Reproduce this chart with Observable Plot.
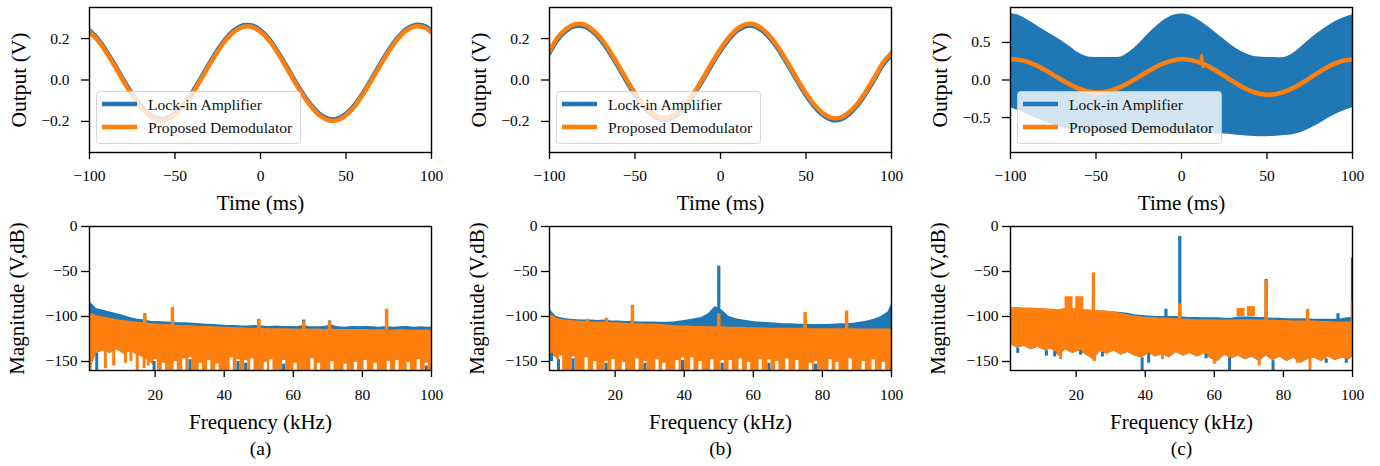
<!DOCTYPE html>
<html><head><meta charset="utf-8">
<script src="https://cdn.jsdelivr.net/npm/d3@7"></script>
<script src="https://cdn.jsdelivr.net/npm/@observablehq/plot@0.6"></script>
<style>
html,body{margin:0;padding:0;background:#fff;}
#fig{position:relative;width:1380px;height:466px;overflow:hidden;background:#fff;font-family:"Liberation Serif",serif;}
#fig text{font-family:"Liberation Serif",serif;}
</style></head><body><div id="fig"></div>
<script>
// ---------------- DATA ----------------
const BLUE = "#1f77b4", ORANGE = "#ff7f0e";
const seriesNames = ["Lock-in Amplifier", "Proposed Demodulator"];
const panelCaptions = ["(a)", "(b)", "(c)"];
const timeLabel = "Time (ms)", outputLabel = "Output (V)";
const freqLabel = "Frequency (kHz)", magLabel = "Magnitude (V,dB)";
const timeTicks = [-100, -50, 0, 50, 100];
const outTicksAB = [-0.2, 0, 0.2];
const outTicksC = [-0.5, 0, 0.5];
const freqTicks = [20, 40, 60, 80, 100];
const magTicks = [0, -50, -100, -150];

// time-domain (ms) and outputs (V)
const timeMs = [-100,-95,-90,-85,-80,-75,-70,-65,-60,-55,-50,-45,-40,-35,-30,-25,-20,-15,-10,-5,0,5,10,15,20,25,30,35,40,45,50,55,60,65,70,75,80,85,90,95,100];
const aProp = [0.232,0.190,0.131,0.063,-0.008,-0.075,-0.131,-0.172,-0.193,-0.192,-0.168,-0.126,-0.067,0.001,0.072,0.139,0.195,0.236,0.257,0.256,
               0.233,0.191,0.131,0.062,-0.009,-0.076,-0.132,-0.174,-0.195,-0.194,-0.170,-0.127,-0.068,0.000,0.071,0.138,0.195,0.237,0.258,0.256,0.231];
const aLock = [0.239,0.197,0.138,0.070,-0.001,-0.068,-0.124,-0.165,-0.186,-0.185,-0.161,-0.119,-0.060,0.008,0.079,0.146,0.202,0.243,0.264,0.263,
               0.240,0.198,0.138,0.069,-0.002,-0.069,-0.125,-0.167,-0.188,-0.187,-0.163,-0.120,-0.061,0.007,0.078,0.145,0.202,0.244,0.265,0.263,0.238];
const bProp = [0.140,0.207,0.248,0.269,0.268,0.244,0.202,0.143,0.075,0.004,-0.063,-0.119,-0.160,-0.181,-0.180,-0.156,-0.114,-0.055,0.013,0.084,
               0.150,0.206,0.248,0.270,0.268,0.243,0.201,0.142,0.074,0.003,-0.064,-0.120,-0.161,-0.183,-0.182,-0.157,-0.115,-0.056,0.012,0.083,0.130];
const bLock = [0.131,0.198,0.239,0.260,0.259,0.235,0.193,0.134,0.066,-0.005,-0.072,-0.128,-0.169,-0.190,-0.189,-0.165,-0.123,-0.064,0.004,0.075,
               0.141,0.197,0.239,0.261,0.259,0.234,0.192,0.133,0.065,-0.006,-0.073,-0.129,-0.170,-0.192,-0.191,-0.166,-0.124,-0.065,0.003,0.074,0.121];
const cProp = [0.275,0.268,0.241,0.195,0.136,0.069,0.000,-0.063,-0.115,-0.150,-0.165,-0.158,-0.131,-0.085,-0.026,0.041,0.110,0.173,0.225,0.260,
               0.275,0.268,0.238,0.190,0.126,0.055,-0.019,-0.086,-0.141,-0.179,-0.195,-0.188,-0.158,-0.110,-0.046,0.025,0.099,0.166,0.221,0.259,0.272];
const cLockUpper = [0.885,0.86,0.80,0.73,0.66,0.59,0.52,0.44,0.36,0.31,0.30,0.30,0.30,0.31,0.38,0.48,0.60,0.71,0.80,0.86,
                    0.88,0.86,0.80,0.72,0.63,0.54,0.45,0.38,0.33,0.305,0.30,0.30,0.30,0.35,0.44,0.54,0.63,0.71,0.78,0.83,0.87];
const cLockLower = [-0.37,-0.41,-0.46,-0.51,-0.56,-0.60,-0.63,-0.66,-0.68,-0.69,-0.70,-0.70,-0.70,-0.69,-0.69,-0.68,-0.68,-0.68,-0.68,-0.68,
                    -0.68,-0.69,-0.70,-0.71,-0.72,-0.72,-0.73,-0.74,-0.75,-0.755,-0.755,-0.75,-0.74,-0.73,-0.70,-0.65,-0.59,-0.52,-0.46,-0.41,-0.37];
const cGlitchT = [11.0, 11.8, 12.5];
const cGlitchV = [0.240, 0.325, 0.175];

// spectra (kHz, dB)
const freqKHz = [1,3,5,7,9,11,13,15,17,19,21,23,25,27,29,31,33,35,37,39,41,43,45,47,49,51,53,55,57,59,61,63,65,67,69,71,73,75,77,79,81,83,85,87,89,91,93,95,97,99,100];

// (a)
const aLockHi = [-83,-91,-93,-95,-97,-99,-101.5,-103,-104,-105.5, -105.5,-106,-106.5,-107,-107,-107.5,-108,-108.5,-109,-109.5,
                 -110,-110,-110.5,-110.5,-110,-110.5,-111,-110.5,-111,-111, -111.5,-110,-111.5,-111.5,-111,-109.5,-111.5,-112,-111,-111.5,
                 -111,-111.5,-112,-111,-112,-111.5,-111,-112,-111.5,-112,-112];
const aPropHi = [-96,-99,-100.5,-102,-103.5,-104.5,-105.5,-106.5,-107,-108, -108.5,-109,-109.5,-110,-110,-110.5,-111,-111,-111.5,-112,
                 -112,-112.5,-112.5,-113,-113,-113,-113.5,-113.5,-113.5,-114, -114,-114,-114,-114,-114.5,-114,-114.5,-114.5,-114.5,-114.5,
                 -114.5,-115,-114.5,-115,-115,-114.5,-115,-115,-115,-115,-115];
const aPropLo = [-160,-141,-138,-141,-137,-142,-139,-143,-146,-152, -160,-160,-160,-160,-160,-160,-160,-160,-160,-160,
                 -160,-160,-160,-160,-160,-160,-160,-160,-160,-160, -160,-160,-160,-160,-160,-160,-160,-160,-160,-160,
                 -160,-160,-160,-160,-160,-160,-160,-160,-160,-160,-160];
const aPropSpikeF = [17, 25, 50, 63, 70.5, 87];
const aPropSpikeDb = [-98, -90, -103, -105.5, -106, -92];
const aPropTeethF = [1.2, 5.6, 8.0, 11.4, 13.0, 14.8, 16.8, 18.0];
const aPropTeethDb = [-160, -158, -155, -152, -150, -160, -158, -155];
const aNotchF = [20.0,22.4,25.8,28.3,30.1,33.1,35.5,37.9,42.0,44.0,46.2,48.0,51.9,53.5,57.2,60.5,65.4,67.3,71.2,75.0,78.0,80.8,83.7,87.5,90.0,93.3,96.2,98.5];
const aNotchDb = [-148,-152,-150,-147,-146,-152,-149,-153,-146,-148,-149,-147,-151,-148,-149,-152,-147,-152,-150,-153,-151,-149,-152,-150,-149,-151,-148,-152];
const aLockSpikeF = [17, 63, 70.5];
const aLockSpikeDb = [-97, -104, -105];
const aLockDipF = [3.1, 19.7, 30.1, 44.0, 46.2, 57.2, 98.5];
const aLockDipTop = [-141, -150, -148, -150, -152, -153, -155];
const aLockDipBottom = [-160, -160, -160, -160, -160, -160, -160];

// (b)
const bLockHi = [-92,-100,-102,-103,-103.5,-104,-104,-104.5,-104,-105, -105,-105.5,-105.5,-106,-106,-106,-106.5,-106.5,-106,-105,
                 -104,-102.5,-101,-97,-89,-93,-100,-102.5,-104,-105, -106,-106.5,-107,-107.5,-108,-108,-108.5,-108.5,-109,-109,
                 -109,-108.5,-108,-108,-107.5,-106.5,-105,-103,-100,-95,-86];
const bPropHi = [-96,-102,-103.5,-104.5,-105,-105.5,-106,-106,-106.5,-107, -107,-107.5,-108,-108,-108.5,-108.5,-109,-109.5,-110,-110.5,
                 -110.5,-111,-111,-111.5,-111.5,-111.5,-112,-112,-112,-112.5, -112.5,-112.5,-113,-113,-113,-113,-113,-113,-113.5,-113.5,
                 -113.5,-113.5,-113.5,-113.5,-113.5,-114,-114,-114,-114,-114,-114];
const bPropLo = [-140,-146,-160,-160,-160,-160,-160,-160,-160,-160, -160,-160,-160,-160,-160,-160,-160,-160,-160,-160,
                 -160,-160,-160,-160,-160,-160,-160,-160,-160,-160, -160,-160,-160,-160,-160,-160,-160,-160,-160,-160,
                 -160,-160,-160,-160,-160,-160,-160,-160,-160,-160,-160];
const bPropSpikeF = [12, 17.5, 25, 50, 75, 87];
const bPropSpikeDb = [-103, -102, -87.5, -97, -95.5, -94];
const bPropTeethF = [];
const bPropTeethDb = [];
const bNotchF = [4.2,7.8,11.6,14.1,17.4,19.4,22.4,26.3,28.6,32.1,34.1,37.9,39.5,42.2,44.6,48.0,51.0,53.3,56.2,58.6,62.0,64.5,66.8,69.7,72.6,76.5,78.0,82.2,84.2,88.0,91.8,94.7,97.6];
const bNotchDb = [-144,-145,-146,-150,-150,-148,-151,-147,-150,-148,-152,-149,-146,-146,-150,-148,-149,-149,-147,-151,-148,-148,-150,-147,-149,-152,-150,-148,-151,-147,-150,-148,-151];
const bLockSpikeF = [50];
const bLockSpikeDb = [-44];
const bLockDipF = [1.6, 3.6, 7.8, 17.4, 28.6, 39.5, 51.0, 64.5, 78.0];
const bLockDipTop = [-141, -148, -147, -152, -152, -149, -152, -152, -153];
const bLockDipBottom = [-150, -160, -160, -160, -160, -160, -160, -160, -160];

// (c)
const cLockHi = [-90.5,-90.5,-91,-91,-91.5,-92,-92.5,-93,-91.5,-91.5, -92.5,-93,-93.5,-94,-94.5,-95,-95.5,-96.5,-98,-99,
                 -99.5,-100,-100,-100,-100,-100.5,-101,-101,-101.5,-101.5, -101.5,-102,-102,-100.5,-100.5,-100.5,-101,-101.5,-102,-102,
                 -102.5,-102.5,-102.5,-102.5,-103,-103,-103,-103,-102.5,-101,-101];
const cPropHi = [-90,-90,-90.5,-90.5,-91,-91.5,-92,-92.5,-91,-91, -92,-92.5,-93,-93.5,-94,-95,-96.5,-98,-99.5,-100.5,
                 -101,-101.5,-102,-102,-102.5,-103,-103,-103.5,-103.5,-103.5, -104,-104,-104,-103.5,-103.5,-103.5,-104,-104,-104,-104.5,
                 -104.5,-105,-105,-105,-105,-105.5,-105.5,-106,-106,-106,-106];
const cPropLo = [-131,-135,-133,-137,-134,-138,-136,-144,-137,-141, -138,-143,-148,-139,-142,-138,-143,-140,-144,-146,
                 -141,-145,-142,-146,-140,-144,-141,-145,-142,-147, -150,-143,-147,-144,-148,-145,-150,-144,-149,-145,
                 -150,-146,-152,-148,-146,-150,-145,-149,-146,-148,-145];
const cPropSpikeF = [25, 50, 75, 87, 100];
const cPropSpikeDb = [-51.5, -86, -60, -92, -84];
const cPropHumpF = [17.8, 20.9, 67.6, 70.6];
const cPropHumpDb = [-78, -78, -91, -89];
const cPropTeethF = [15.5, 25.3, 45.0, 60.0, 73.0, 84.0, 87.7];
const cPropTeethDb = [-148, -150, -148, -153, -155, -152, -160];
const cNotchF = [];
const cNotchDb = [];
const cLockSpikeF = [46, 50, 75, 95.8, 100];
const cLockSpikeDb = [-92, -11, -59, -97, -35];
const cLockDipF = [3.1, 11.4, 13.8, 21.3, 27.6, 39.1, 41.0, 57.6, 64.4, 77.0, 92.4, 98.2];
const cLockDipTop = [-135, -138, -139, -138, -140, -146, -141, -142, -146, -149, -147, -147];
const cLockDipBottom = [-141, -144, -145, -143, -145, -160, -152, -147, -160, -160, -152, -152];

// ---------------- LAYOUT ----------------
const fig = document.getElementById("fig");
const FONT = "Liberation Serif";
const layout = [
  {left: 0,   ml: 89, mr: 29},
  {left: 460, ml: 89, mr: 29},
  {left: 920, ml: 90, mr: 28}
];
const baseStyle = {background: "transparent", overflow: "visible", fontFamily: FONT, fontSize: "15px", color: "#000"};
const fmt1 = d3.format(".1f"), fmtD = d3.format("d");

function place(node, left, top) {
  node.style.position = "absolute";
  node.style.left = left + "px";
  node.style.top = top + "px";
  fig.appendChild(node);
}
function pairs(F, V) { return F.map((f, i) => ({f, v: V[i]})); }
function triples(F, A, B) { return F.map((f, i) => ({f, a: A[i], b: B[i]})); }

function timePanel(i, marks, yDomain, yTicks) {
  const L = layout[i];
  const svg = Plot.plot({
    width: 460, height: 222, marginTop: 7, marginBottom: 70, marginLeft: L.ml, marginRight: L.mr,
    style: baseStyle,
    x: {domain: [-100, 100]},
    y: {domain: yDomain},
    marks: [
      ...marks,
      Plot.frame({stroke: "#000", strokeWidth: 1.4}),
      Plot.axisX({ticks: timeTicks, tickFormat: fmtD, tickSize: 7, tickPadding: 10, fontSize: 15.5, fontFamily: FONT, strokeWidth: 1.3, label: null}),
      Plot.axisY({ticks: yTicks, tickFormat: fmt1, tickSize: 8, tickPadding: 12, fontSize: 15.5, fontFamily: FONT, strokeWidth: 1.3, label: null}),
      Plot.text([timeLabel], {text: d => d, frameAnchor: "bottom", lineAnchor: "middle", textAnchor: "middle", dy: 51, fontSize: 21, fontFamily: FONT}),
      Plot.text([outputLabel], {text: d => d, frameAnchor: "left", lineAnchor: "middle", textAnchor: "middle", dx: -70, rotate: -90, fontSize: 21.5, fontFamily: FONT})
    ]
  });
  place(svg, L.left, 0);
  // legend (matplotlib-like, semi-transparent box)
  const lg = document.createElementNS("http://www.w3.org/2000/svg", "svg");
  lg.setAttribute("width", 206); lg.setAttribute("height", 54);
  lg.innerHTML = `<rect x="0.5" y="0.5" width="204" height="52" rx="3" fill="white" fill-opacity="0.8" stroke="#cccccc" stroke-opacity="0.8"/>
    <line x1="6" x2="41" y1="13" y2="13" stroke="${BLUE}" stroke-width="4.5"/>
    <line x1="6" x2="41" y1="36" y2="36" stroke="${ORANGE}" stroke-width="4.5"/>
    <text x="52" y="19" style="font-family:'Liberation Serif';font-size:15.6px" fill="#111">${seriesNames[0]}</text>
    <text x="52" y="42" style="font-family:'Liberation Serif';font-size:15.6px" fill="#111">${seriesNames[1]}</text>`;
  place(lg, L.left + L.ml + 7, 91);
}

function specPanel(i, d) {
  const L = layout[i];
  const rows = freqKHz.map((f, k) => ({f, lockHi: d.lockHi[k], propHi: d.propHi[k], propLo: d.propLo[k]}));
  const marks = [
    Plot.areaY(rows, {x: "f", y1: "propLo", y2: "lockHi", fill: BLUE, clip: true}),
    Plot.ruleX(pairs(d.lockSpikeF, d.lockSpikeDb), {x: "f", y1: -115, y2: "v", stroke: BLUE, strokeWidth: 3.2, clip: true}),
    Plot.areaY(rows, {x: "f", y1: "propLo", y2: "propHi", fill: ORANGE, clip: true}),
    Plot.ruleX(pairs(d.propSpikeF, d.propSpikeDb), {x: "f", y1: -115, y2: "v", stroke: ORANGE, strokeWidth: 3.5, clip: true}),
    Plot.ruleX(pairs(d.humpF || [], d.humpDb || []), {x: "f", y1: -100, y2: "v", stroke: ORANGE, strokeWidth: 8, clip: true}),
    Plot.ruleX(pairs(d.teethF, d.teethDb), {x: "f", y1: -128, y2: "v", stroke: ORANGE, strokeWidth: 3, clip: true}),
    Plot.ruleX(pairs(d.notchF, d.notchDb), {x: "f", y1: -162, y2: "v", stroke: "#fff", strokeWidth: 3.2, clip: true}),
    Plot.ruleX(triples(d.lockDipF, d.lockDipTop, d.lockDipBottom), {x: "f", y1: "a", y2: "b", stroke: BLUE, strokeWidth: 3, clip: true})
  ];
  const svg = Plot.plot({
    width: 460, height: 244, marginTop: 4, marginBottom: 96, marginLeft: L.ml, marginRight: L.mr,
    style: baseStyle,
    x: {domain: [1, 100]},
    y: {domain: [-160, 0]},
    marks: [
      ...marks,
      Plot.frame({stroke: "#000", strokeWidth: 1.4}),
      Plot.axisX({ticks: freqTicks, tickFormat: fmtD, tickSize: 7, tickPadding: 11, fontSize: 15.5, fontFamily: FONT, strokeWidth: 1.3, label: null}),
      Plot.axisY({ticks: magTicks, tickFormat: fmtD, tickSize: 8, tickPadding: 4, fontSize: 15.5, fontFamily: FONT, strokeWidth: 1.3, label: null}),
      Plot.text([freqLabel], {text: t => t, frameAnchor: "bottom", lineAnchor: "middle", textAnchor: "middle", dy: 52, fontSize: 21, fontFamily: FONT}),
      Plot.text([panelCaptions[i]], {text: t => t, frameAnchor: "bottom", lineAnchor: "middle", textAnchor: "middle", dy: 78.5, fontSize: 19.5, fontFamily: FONT}),
      Plot.text([magLabel], {text: t => t, frameAnchor: "left", lineAnchor: "middle", textAnchor: "middle", dx: -72, rotate: -90, fontSize: 21, fontFamily: FONT})
    ]
  });
  place(svg, L.left, 222);
}

// ---------------- TOP ROW ----------------
const rowsA = timeMs.map((t, k) => ({t, lock: aLock[k], prop: aProp[k]}));
const rowsB = timeMs.map((t, k) => ({t, lock: bLock[k], prop: bProp[k]}));
const rowsC = timeMs.map((t, k) => ({t, hi: cLockUpper[k], lo: cLockLower[k], prop: cProp[k]}));
const glitch = cGlitchT.map((t, k) => ({t, v: cGlitchV[k]}));
const lineOpts = {x: "t", curve: "catmull-rom", strokeWidth: 4.5, strokeLinejoin: "round", clip: true};

timePanel(0, [
  Plot.line(rowsA, {...lineOpts, y: "lock", stroke: BLUE}),
  Plot.line(rowsA, {...lineOpts, y: "prop", stroke: ORANGE})
], [-0.35, 0.35], outTicksAB);
timePanel(1, [
  Plot.line(rowsB, {...lineOpts, y: "lock", stroke: BLUE}),
  Plot.line(rowsB, {...lineOpts, y: "prop", stroke: ORANGE})
], [-0.35, 0.35], outTicksAB);
timePanel(2, [
  Plot.areaY(rowsC, {x: "t", y1: "lo", y2: "hi", fill: BLUE, curve: "catmull-rom", clip: true}),
  Plot.line(rowsC, {...lineOpts, y: "prop", stroke: ORANGE}),
  Plot.line(glitch, {x: "t", y: "v", stroke: ORANGE, strokeWidth: 3, clip: true})
], [-0.965, 0.965], outTicksC);

// ---------------- BOTTOM ROW ----------------
specPanel(0, {lockHi: aLockHi, propHi: aPropHi, propLo: aPropLo,
  propSpikeF: aPropSpikeF, propSpikeDb: aPropSpikeDb, lockSpikeF: aLockSpikeF, lockSpikeDb: aLockSpikeDb,
  teethF: aPropTeethF, teethDb: aPropTeethDb, notchF: aNotchF, notchDb: aNotchDb,
  lockDipF: aLockDipF, lockDipTop: aLockDipTop, lockDipBottom: aLockDipBottom});
specPanel(1, {lockHi: bLockHi, propHi: bPropHi, propLo: bPropLo,
  propSpikeF: bPropSpikeF, propSpikeDb: bPropSpikeDb, lockSpikeF: bLockSpikeF, lockSpikeDb: bLockSpikeDb,
  teethF: bPropTeethF, teethDb: bPropTeethDb, notchF: bNotchF, notchDb: bNotchDb,
  lockDipF: bLockDipF, lockDipTop: bLockDipTop, lockDipBottom: bLockDipBottom});
specPanel(2, {lockHi: cLockHi, propHi: cPropHi, propLo: cPropLo,
  propSpikeF: cPropSpikeF, propSpikeDb: cPropSpikeDb, lockSpikeF: cLockSpikeF, lockSpikeDb: cLockSpikeDb,
  teethF: cPropTeethF, teethDb: cPropTeethDb, notchF: cNotchF, notchDb: cNotchDb,
  lockDipF: cLockDipF, lockDipTop: cLockDipTop, lockDipBottom: cLockDipBottom,
  humpF: cPropHumpF, humpDb: cPropHumpDb});
</script></body></html>
